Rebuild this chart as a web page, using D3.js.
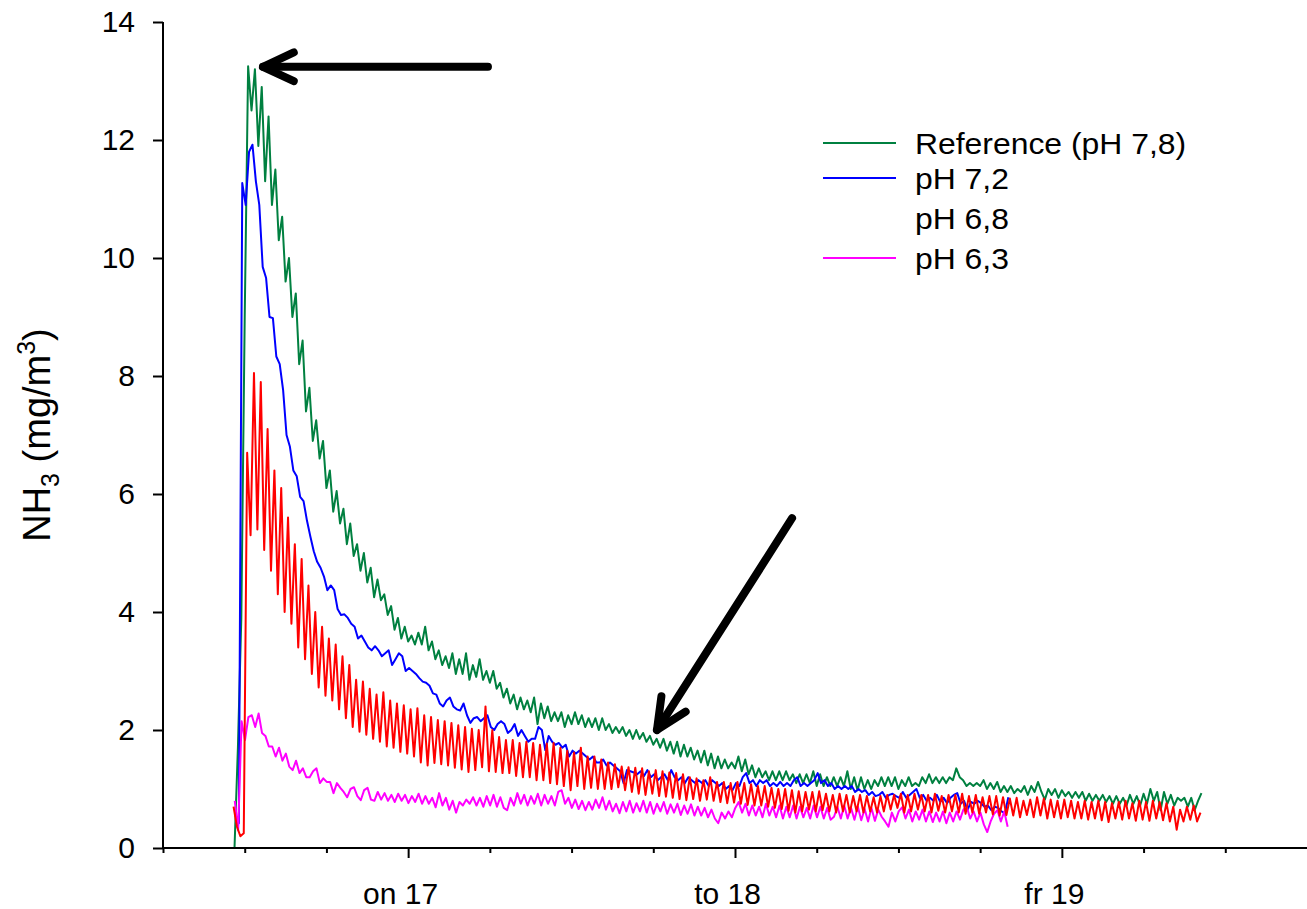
<!DOCTYPE html>
<html><head><meta charset="utf-8">
<script src="https://cdn.jsdelivr.net/npm/d3@7"></script>
<style>html,body{margin:0;padding:0;background:#fff;} svg{display:block;font-family:"Liberation Sans",Arial,sans-serif;}</style>
</head><body><svg id="c" width="1307" height="909"></svg>
<script>
// ---------------- data ----------------
const seriesNames = ["Reference (pH 7,8)", "pH 7,2", "pH 6,8", "pH 6,3"];
const seriesColors = ["#008040", "#0000ff", "#ffffff", "#ff00ff"]; // legend colours (pH 6,8 legend line is white in the original)
const lineColors = {green: "#008040", blue: "#0000ff", red: "#ff0000", magenta: "#ff00ff"};
const stepHours = 0.25;            // sampling interval of the logger (hours)
const greenStart = 11.25;          // hours after 16th 00:00
const blueStart = 11.32;
const redStart = 11.18;
const magentaStart = 11.27;

const green = [0.0,1.7,3.9,9.0,13.25,12.5,13.2,11.9,12.9,11.3,
12.4,10.9,11.5,10.3,10.7,9.6,10.0,9.0,9.4,8.2,
8.6,7.4,7.8,6.9,7.25,6.6,6.9,6.1,6.4,5.7,
6.05,5.5,5.75,5.15,5.5,4.95,5.15,4.7,5.0,4.5,
4.75,4.25,4.55,4.2,4.3,3.95,4.1,3.7,3.9,3.55,
3.75,3.5,3.6,3.45,3.65,3.45,3.75,3.35,3.5,3.2,
3.35,3.1,3.25,3.05,3.3,2.95,3.2,2.95,3.3,2.85,
3.1,2.9,3.2,2.85,3.0,2.8,3.0,2.7,2.8,2.55,
2.7,2.45,2.6,2.35,2.55,2.35,2.5,2.3,2.55,2.1,
2.45,2.2,2.4,2.15,2.3,2.15,2.3,2.05,2.25,2.1,
2.3,2.1,2.25,2.05,2.2,2.05,2.2,2.0,2.2,2.0,
2.1,1.95,2.05,1.95,2.05,1.9,2.0,1.85,2.0,1.85,
1.95,1.8,1.9,1.75,1.85,1.7,1.85,1.65,1.8,1.6,
1.8,1.55,1.75,1.55,1.7,1.5,1.65,1.45,1.65,1.4,
1.6,1.35,1.55,1.35,1.5,1.35,1.45,1.35,1.55,1.3,
1.5,1.25,1.4,1.2,1.35,1.2,1.3,1.15,1.3,1.15,
1.3,1.15,1.3,1.15,1.25,1.1,1.25,1.1,1.25,1.1,
1.3,1.05,1.25,1.05,1.2,1.05,1.2,1.05,1.2,1.05,
1.3,1.0,1.2,0.98,1.2,1.0,1.15,1.0,1.15,1.05,
1.2,1.05,1.2,1.05,1.2,1.0,1.15,1.05,1.2,1.05,
1.1,1.05,1.2,1.1,1.25,1.1,1.2,1.1,1.2,1.1,
1.2,1.15,1.35,1.2,1.15,1.05,1.1,1.05,1.1,1.05,
1.15,1.0,1.1,1.0,1.12,0.95,1.05,0.95,1.05,0.93,
1.0,0.95,1.05,0.9,1.05,0.95,1.12,0.95,0.82,1.0,
0.9,1.0,0.85,0.98,0.88,0.95,0.85,0.95,0.85,0.95,
0.8,0.92,0.8,0.9,0.8,0.9,0.78,0.88,0.75,0.88,
0.75,0.85,0.72,0.9,0.75,0.88,0.72,0.92,0.75,1.0,
0.8,0.95,0.64,0.95,0.75,0.9,0.72,0.85,0.8,0.85,
0.7,0.85,0.64,0.8,0.93];

const blue = [0.55,0.42,11.27,10.9,11.8,11.92,11.3,10.9,9.85,9.66,
9.0,8.98,8.33,8.2,7.76,7.0,6.8,6.4,6.3,5.95,
5.88,5.55,5.28,5.03,4.85,4.75,4.6,4.37,4.45,4.37,
4.05,3.95,3.96,3.9,3.8,3.75,3.55,3.6,3.5,3.4,
3.35,3.42,3.35,3.25,3.3,3.35,3.1,3.2,3.3,3.25,
3.0,3.05,3.0,2.95,2.88,2.82,2.8,2.75,2.62,2.6,
2.45,2.4,2.5,2.55,2.4,2.35,2.33,2.45,2.25,2.12,
2.2,2.22,2.15,2.2,2.25,2.05,2.0,2.1,2.15,2.1,
1.95,2.0,2.1,1.9,2.0,1.9,1.8,1.85,1.85,2.05,
2.0,1.66,1.9,1.8,1.75,1.78,1.7,1.75,1.55,1.65,
1.6,1.65,1.6,1.55,1.5,1.55,1.45,1.45,1.5,1.4,
1.45,1.4,1.35,1.3,1.1,1.32,1.3,1.28,1.25,1.3,
1.22,1.32,1.2,1.25,1.15,1.2,1.25,1.15,1.32,1.2,
1.15,1.2,1.1,1.2,1.15,1.1,1.15,1.1,1.15,1.05,
1.15,1.1,1.05,1.1,1.0,1.05,0.98,1.1,1.05,1.2,
1.27,1.1,1.15,1.05,1.15,1.1,1.15,1.05,1.1,1.05,
1.12,1.05,1.1,1.05,1.15,1.2,1.05,1.1,1.05,1.1,
1.15,1.27,1.1,1.15,1.05,1.1,1.0,1.05,1.0,1.05,
1.0,1.05,0.95,1.0,0.95,0.98,0.9,0.95,0.88,0.9,
0.95,0.85,0.9,0.92,0.88,0.85,0.95,0.85,0.9,0.95,
1.0,0.85,0.9,0.8,0.85,0.8,0.9,0.78,0.85,0.76,
0.85,0.9,0.93,0.75,0.8,0.64,0.78,0.75,0.8,0.76,
0.7,0.72,0.64,0.7,0.68,0.62,0.59,0.86];

const red = [0.7,0.36,0.2,0.25,6.7,5.3,8.05,5.4,7.9,5.05,
7.1,4.7,6.4,4.3,6.1,4.0,5.6,3.8,5.15,3.4,
4.9,3.2,4.45,2.95,4.0,2.72,3.75,2.58,3.55,2.5,
3.45,2.35,3.25,2.2,3.1,2.05,2.85,1.97,2.82,1.92,
2.7,1.85,2.6,1.8,2.64,1.72,2.5,1.7,2.45,1.63,
2.42,1.6,2.35,1.55,2.37,1.45,2.25,1.4,2.22,1.44,
2.17,1.42,2.15,1.4,2.12,1.36,2.08,1.33,2.05,1.29,
2.02,1.32,2.0,1.37,2.4,1.3,2.0,1.29,1.88,1.27,
1.83,1.27,1.83,1.22,1.78,1.2,1.8,1.2,1.78,1.15,
1.75,1.15,1.77,1.1,1.78,1.08,1.7,1.05,1.65,0.98,
1.62,1.05,1.7,1.0,1.55,1.02,1.55,1.0,1.5,1.0,
1.45,1.0,1.42,1.03,1.38,0.98,1.37,0.95,1.36,0.92,
1.35,0.9,1.3,0.92,1.32,0.88,1.3,0.87,1.28,0.85,
1.27,0.83,1.25,0.81,1.2,0.83,1.18,0.8,1.15,0.82,
1.2,0.8,1.12,0.78,1.12,0.76,1.1,0.77,1.12,0.75,
1.1,0.73,1.08,0.72,1.05,0.72,1.05,0.7,1.02,0.68,
1.0,0.66,1.0,0.63,0.98,0.6,0.96,0.62,0.95,0.65,
0.95,0.62,0.96,0.64,0.92,0.62,0.9,0.6,0.92,0.62,
0.9,0.6,0.88,0.62,0.9,0.6,0.88,0.62,0.86,0.6,
0.88,0.62,0.9,0.65,0.9,0.68,0.92,0.6,0.9,0.62,
0.92,0.65,0.9,0.62,0.9,0.6,0.92,0.63,0.88,0.6,
0.9,0.62,0.9,0.6,0.92,0.58,0.88,0.6,0.9,0.58,
0.86,0.6,0.88,0.57,0.88,0.55,0.86,0.56,0.84,0.55,
0.85,0.52,0.8,0.56,0.82,0.52,0.86,0.55,0.84,0.5,
0.82,0.52,0.8,0.5,0.82,0.52,0.8,0.5,0.78,0.5,
0.8,0.48,0.78,0.5,0.8,0.47,0.78,0.44,0.76,0.5,
0.78,0.48,0.8,0.5,0.76,0.46,0.8,0.48,0.78,0.46,
0.8,0.5,0.78,0.47,0.76,0.45,0.7,0.31,0.65,0.45,
0.7,0.48,0.72,0.45,0.6];

const magenta = [0.8,0.3,2.15,1.83,2.22,2.25,2.05,2.28,1.95,1.9,
1.72,1.72,1.55,1.7,1.48,1.6,1.38,1.32,1.48,1.27,
1.35,1.2,1.2,1.3,1.35,1.1,1.18,1.12,1.12,0.93,
1.1,1.02,0.95,0.86,1.0,1.03,0.88,0.81,0.98,1.02,
0.82,0.8,0.95,0.82,0.93,0.8,0.9,0.78,0.92,0.8,
0.9,0.76,0.88,0.78,0.92,0.75,0.88,0.75,0.85,0.69,
0.93,0.72,0.85,0.65,0.8,0.6,0.78,0.72,0.82,0.75,
0.86,0.72,0.85,0.7,0.88,0.72,0.9,0.7,0.86,0.68,
0.64,0.85,0.72,0.93,0.75,0.9,0.72,0.88,0.75,0.92,
0.72,0.9,0.75,0.88,0.72,0.95,0.98,0.75,0.85,0.68,
0.82,0.66,0.8,0.64,0.78,0.65,0.82,0.68,0.86,0.65,
0.8,0.62,0.75,0.59,0.78,0.62,0.8,0.6,0.76,0.62,
0.8,0.6,0.78,0.58,0.75,0.62,0.78,0.58,0.74,0.6,
0.75,0.56,0.72,0.58,0.74,0.55,0.7,0.55,0.68,0.52,
0.65,0.5,0.42,0.6,0.5,0.62,0.52,0.68,0.78,0.6,
0.75,0.55,0.72,0.55,0.7,0.52,0.75,0.55,0.7,0.52,
0.72,0.5,0.7,0.52,0.72,0.5,0.7,0.52,0.68,0.5,
0.72,0.52,0.7,0.5,0.68,0.48,0.53,0.7,0.5,0.72,
0.5,0.68,0.48,0.7,0.47,0.66,0.45,0.68,0.46,0.65,
0.53,0.45,0.36,0.6,0.45,0.62,0.69,0.5,0.65,0.45,
0.62,0.48,0.65,0.45,0.62,0.44,0.6,0.45,0.62,0.42,
0.6,0.45,0.62,0.48,0.65,0.69,0.5,0.62,0.45,0.6,
0.4,0.27,0.45,0.58,0.64,0.45,0.62,0.36];

const yTickValues = [0, 2, 4, 6, 8, 10, 12, 14];
const xTickHours = [6, 12, 18, 24, 30, 36, 42, 48, 54, 60, 66, 72, 78, 84];
const dayTickHours = [24, 48, 72];
const dayTickLabels = ["on 17", "to 18", "fr 19"];
// annotation arrows in data coordinates: [hour, value]
const arrowTails = [[29.86, 13.24], [52.19, 5.59]];
const arrowTips = [[13.34, 13.24], [42.27, 2.0]];

// ---------------- drawing ----------------
const svg = d3.select("#c");
const x = d3.scaleLinear().domain([6, 90]).range([163, 1307]);
const y = d3.scaleLinear().domain([0, 14]).range([848, 22]);

const toPts = (arr, start) => arr.map((v, i) => ({h: start + i * stepHours, v}));
const line = d3.line().x(d => x(d.h)).y(d => y(d.v));

const drawOrder = [
  [green, greenStart, lineColors.green],
  [blue, blueStart, lineColors.blue],
  [magenta, magentaStart, lineColors.magenta],
  [red, redStart, lineColors.red]
];
const gLines = svg.append("g");
drawOrder.forEach(([arr, st, col]) => {
  gLines.append("path").datum(toPts(arr, st))
    .attr("d", line).attr("fill", "none").attr("stroke", col)
    .attr("stroke-width", 2).attr("stroke-linejoin", "round");
});

// Y axis
const yAxis = svg.append("g").attr("transform", "translate(163,0)")
  .call(d3.axisLeft(y).tickValues(yTickValues).tickSize(10).tickPadding(18).tickFormat(d3.format("d")));
yAxis.select(".domain").attr("stroke", "#000").attr("stroke-width", 2).attr("d", `M0,${y(14)}V${y(0)}`);
yAxis.selectAll(".tick line").attr("stroke", "#000").attr("stroke-width", 2);
yAxis.selectAll(".tick text").attr("font-size", 30).attr("fill", "#000")
  .attr("font-family", '"Liberation Sans",Arial,sans-serif');

// X axis
const xAxis = svg.append("g").attr("transform", "translate(0,848)")
  .call(d3.axisBottom(x).tickValues(xTickHours).tickSize(5).tickSizeOuter(0)
    .tickFormat(d => { const k = dayTickHours.indexOf(d); return k >= 0 ? dayTickLabels[k] : ""; }));
xAxis.select(".domain").attr("stroke", "#000").attr("stroke-width", 2).attr("d", `M${x(6)},0H1307`);
xAxis.selectAll(".tick line").attr("stroke", "#000").attr("stroke-width", 2)
  .attr("y2", d => dayTickHours.includes(d) ? 10 : 5);
xAxis.selectAll(".tick text").attr("font-size", 30).attr("fill", "#000")
  .attr("font-family", '"Liberation Sans",Arial,sans-serif')
  .attr("y", 56).attr("dy", 0).attr("dx", -8);

// Y axis title
const yt = svg.append("text").attr("transform", "translate(50,435) rotate(-90)")
  .attr("text-anchor", "middle").attr("font-size", 38).attr("fill", "#000");
yt.append("tspan").text("NH");
yt.append("tspan").attr("font-size", 25).attr("dy", 9).text("3");
yt.append("tspan").attr("dy", -9).text(" (mg/m");
yt.append("tspan").attr("font-size", 25).attr("dy", -15).text("3");
yt.append("tspan").attr("dy", 15).text(")");

// Legend
const leg = svg.append("g");
seriesNames.forEach((name, i) => {
  const ly = [143, 178, 218, 258][i];
  leg.append("line").attr("x1", 823).attr("x2", 896).attr("y1", ly).attr("y2", ly)
    .attr("stroke", seriesColors[i]).attr("stroke-width", 2);
  leg.append("text").attr("transform", `translate(915,${ly + 11}) scale(1.1,1)`)
    .attr("font-size", 29).attr("fill", "#000").text(name);
});

// Arrows
const ga = svg.append("g").attr("stroke", "#000").attr("stroke-width", 8)
  .attr("stroke-linecap", "round").attr("stroke-linejoin", "round").attr("fill", "none");
arrowTails.forEach((t, i) => {
  const x0 = x(t[0]), y0 = y(t[1]), x1 = x(arrowTips[i][0]), y1 = y(arrowTips[i][1]);
  ga.append("line").attr("x1", x0).attr("y1", y0).attr("x2", x1).attr("y2", y1);
  const len = Math.hypot(x0 - x1, y0 - y1), ux = (x0 - x1) / len, uy = (y0 - y1) / len;
  const a = 25 * Math.PI / 180, L = 34;
  const r1 = [ux * Math.cos(a) - uy * Math.sin(a), ux * Math.sin(a) + uy * Math.cos(a)];
  const r2 = [ux * Math.cos(a) + uy * Math.sin(a), -ux * Math.sin(a) + uy * Math.cos(a)];
  ga.append("path").attr("d", `M${x1 + r1[0] * L},${y1 + r1[1] * L}L${x1},${y1}L${x1 + r2[0] * L},${y1 + r2[1] * L}`);
});
</script></body></html>
